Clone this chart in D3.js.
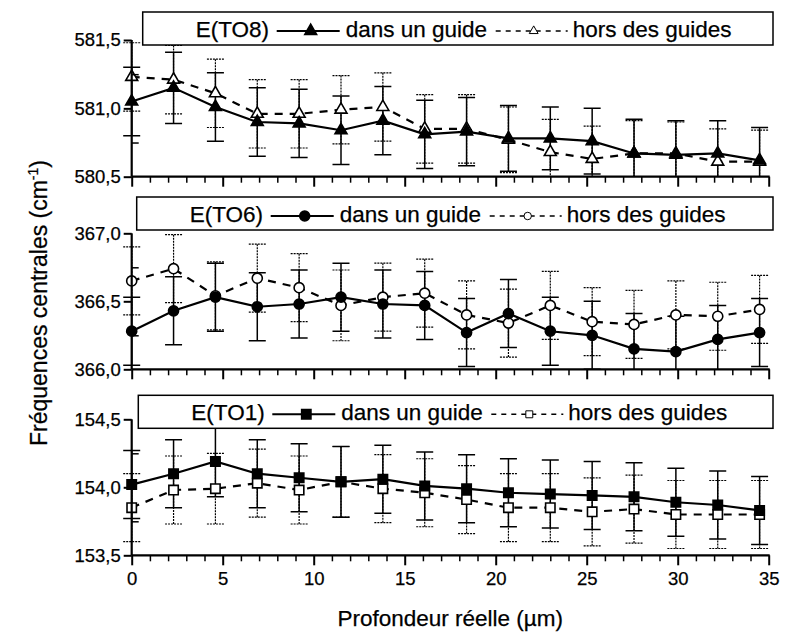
<!DOCTYPE html>
<html>
<head>
<meta charset="utf-8">
<title>Fréquences centrales</title>
<script src="https://cdn.jsdelivr.net/npm/d3@7"></script>
<style>
  body { margin: 0; background: #fff; }
  svg { font-family: "Liberation Sans", Arial, sans-serif; }
  text { stroke: #000; stroke-width: 0.25px; }
</style>
</head>
<body>
<svg id="chart" width="786" height="639"></svg>
<script>
// depth positions (µm)
const depth = [0, 2.3, 4.6, 6.9, 9.2, 11.5, 13.8, 16.1, 18.4, 20.7, 23.0, 25.3, 27.6, 29.9, 32.2, 34.5];
const xTicks = [0, 5, 10, 15, 20, 25, 30, 35];

// E(TO8)
const to8Guide    = [581.05, 581.15, 581.01, 580.90, 580.89, 580.84, 580.91, 580.81, 580.83, 580.78, 580.78, 580.76, 580.67, 580.66, 580.67, 580.62];
const to8GuideErr = [0.25, 0.26, 0.25, 0.25, 0.25, 0.25, 0.25, 0.25, 0.25, 0.24, 0.23, 0.24, 0.25, 0.25, 0.24, 0.24];
const to8Hors     = [581.23, 581.21, 581.11, 580.96, 580.96, 580.99, 581.01, 580.85, 580.85, 580.77, 580.68, 580.63, 580.67, 580.67, 580.61, 580.61];
const to8HorsErr  = [0.25, 0.25, 0.25, 0.25, 0.25, 0.25, 0.25, 0.25, 0.25, 0.24, 0.24, 0.24, 0.24, 0.23, 0.24, 0.23];

// E(TO6)
const to6Guide    = [366.28, 366.43, 366.53, 366.46, 366.48, 366.53, 366.48, 366.47, 366.27, 366.41, 366.28, 366.25, 366.15, 366.13, 366.22, 366.27];
const to6GuideErr = [0.25, 0.25, 0.25, 0.25, 0.25, 0.25, 0.25, 0.25, 0.25, 0.25, 0.25, 0.25, 0.26, 0.26, 0.25, 0.25];
const to6Hors     = [366.65, 366.74, 366.54, 366.67, 366.60, 366.47, 366.53, 366.56, 366.40, 366.34, 366.47, 366.35, 366.33, 366.40, 366.39, 366.44];
const to6HorsErr  = [0.25, 0.25, 0.25, 0.25, 0.25, 0.26, 0.25, 0.25, 0.25, 0.25, 0.25, 0.25, 0.25, 0.25, 0.25, 0.25];

// E(TO1)
const to1Guide    = [154.02, 154.10, 154.19, 154.10, 154.07, 154.04, 154.06, 154.01, 153.99, 153.96, 153.95, 153.94, 153.93, 153.89, 153.87, 153.83];
const to1GuideErr = [0.25, 0.25, 0.26, 0.25, 0.25, 0.26, 0.25, 0.25, 0.25, 0.25, 0.25, 0.25, 0.25, 0.25, 0.25, 0.25];
const to1Hors     = [153.85, 153.98, 153.99, 154.03, 153.98, 154.04, 153.99, 153.96, 153.91, 153.85, 153.85, 153.82, 153.84, 153.80, 153.80, 153.80];
const to1HorsErr  = [0.25, 0.25, 0.26, 0.25, 0.25, 0.26, 0.25, 0.25, 0.25, 0.25, 0.25, 0.25, 0.25, 0.25, 0.25, 0.25];

const yTicksTO8 = [580.5, 581.0, 581.5];
const yTicksTO6 = [366.0, 366.5, 367.0];
const yTicksTO1 = [153.5, 154.0, 154.5];

const svg = d3.select("#chart");
const x = d3.scaleLinear().domain([0, 35]).range([131.7, 768.7]);
const fmt = v => d3.format(".1f")(v).replace(".", ",");

const panels = [
  { name: "E(TO8)", sym: d3.symbolTriangle, size: 62, ticks: yTicksTO8, top: 40, bottom: 176.7,
    guide: to8Guide, guideErr: to8GuideErr, hors: to8Hors, horsErr: to8HorsErr, legL: 142.7, legB: 45, labels: false },
  { name: "E(TO6)", sym: d3.symbolCircle, size: 80, ticks: yTicksTO6, top: 233.3, bottom: 369.3,
    guide: to6Guide, guideErr: to6GuideErr, hors: to6Hors, horsErr: to6HorsErr, legL: 136.7, legB: 230, labels: false },
  { name: "E(TO1)", sym: d3.symbolSquare, size: 88, ticks: yTicksTO1, top: 419.3, bottom: 555.3,
    guide: to1Guide, guideErr: to1GuideErr, hors: to1Hors, horsErr: to1HorsErr, legL: 138.3, legB: 428.3, labels: true }
];

panels.forEach((p, i) => {
  const y = d3.scaleLinear().domain([p.ticks[0], p.ticks[2]]).range([p.bottom, p.top]);
  const g = svg.append("g");

  g.append("clipPath").attr("id", "clip" + i)
    .append("rect").attr("x", 100).attr("y", p.top - 40).attr("width", 700).attr("height", p.bottom - p.top + 40);
  const plot = g.append("g").attr("clip-path", `url(#clip${i})`);

  const series = [
    { vals: p.guide, err: p.guideErr, dash: null, fill: "#000", barDash: null, barW: 1.5 },
    { vals: p.hors, err: p.horsErr, dash: "8,7", fill: "#fff", barDash: "2,1", barW: 1.2 }
  ];

  // error bars
  series.forEach(s => {
    const eb = plot.append("g").attr("stroke", "#000").attr("stroke-width", s.barW)
      .attr("stroke-dasharray", s.barDash);
    depth.forEach((d, k) => {
      const cx = x(d), y1 = y(s.vals[k] + s.err[k]), y2 = y(s.vals[k] - s.err[k]);
      eb.append("line").attr("x1", cx).attr("x2", cx).attr("y1", y1).attr("y2", y2);
      eb.append("line").attr("x1", cx - 8.5).attr("x2", cx + 8.5).attr("y1", y1).attr("y2", y1);
      eb.append("line").attr("x1", cx - 8.5).attr("x2", cx + 8.5).attr("y1", y2).attr("y2", y2);
    });
  });

  // lines
  const line = d3.line().x((d, k) => x(depth[k])).y(d => y(d));
  series.slice().reverse().forEach(s => {
    plot.append("path").datum(s.vals).attr("d", line).attr("fill", "none")
      .attr("stroke", "#000").attr("stroke-width", 2.2).attr("stroke-dasharray", s.dash);
  });

  // markers
  series.slice().reverse().forEach(s => {
    plot.selectAll(null).data(s.vals).join("path")
      .attr("d", d3.symbol().type(p.sym).size(p.size))
      .attr("transform", (d, k) => `translate(${x(depth[k])},${y(d)})`)
      .attr("fill", s.fill).attr("stroke", "#000").attr("stroke-width", 1.6);
  });

  // left axis
  const yMinor = d3.range(p.ticks[0], p.ticks[2] + 1e-6, 0.25).filter(v => !p.ticks.some(t => Math.abs(t - v) < 1e-6));
  g.append("g").attr("transform", `translate(${x(0)},0)`)
    .call(d3.axisLeft(y).tickValues(yMinor).tickSize(-7).tickFormat(""))
    .call(a => a.select(".domain").remove())
    .selectAll("line").attr("stroke-width", 1.5);
  const ya = g.append("g").attr("transform", `translate(${x(0)},0)`)
    .call(d3.axisLeft(y).tickValues(p.ticks).tickSize(8).tickPadding(3).tickFormat(fmt));
  ya.select(".domain").attr("d", `M0,${p.top}V${p.bottom}`).attr("stroke-width", 2.2);
  ya.selectAll("line").attr("stroke-width", 2);
  ya.selectAll("text").attr("font-size", 18.5).attr("font-family", "Liberation Sans, Arial, sans-serif").attr("fill", "#000");

  // bottom axis
  const xMinor = d3.range(0, 36, 1).filter(v => v % 5 !== 0);
  g.append("g").attr("transform", `translate(0,${p.bottom})`)
    .call(d3.axisBottom(x).tickValues(xMinor).tickSize(6).tickFormat(""))
    .call(a => a.select(".domain").remove())
    .selectAll("line").attr("stroke-width", 1.5);
  const xa = g.append("g").attr("transform", `translate(0,${p.bottom})`)
    .call(d3.axisBottom(x).tickValues(xTicks).tickSize(10).tickPadding(7).tickFormat(p.labels ? d3.format("d") : ""));
  xa.select(".domain").attr("d", `M${x(0)},0H${x(35) + 1}`).attr("stroke-width", 2.2);
  xa.selectAll("line").attr("stroke-width", 2);
  xa.selectAll("text").attr("font-size", 18.5).attr("font-family", "Liberation Sans, Arial, sans-serif").attr("fill", "#000");

  // legend box
  const L = p.legL, B = p.legB, H = 33, R = 773;
  const lg = g.append("g");
  lg.append("rect").attr("x", L).attr("y", B - H).attr("width", R - L).attr("height", H)
    .attr("fill", "#fff").attr("stroke", "#000").attr("stroke-width", 1.5);
  const ty = B - 8, my = B - 14;
  lg.append("text").attr("x", L + 53).attr("y", ty).attr("font-size", 22.5).text(p.name);
  lg.append("line").attr("x1", L + 134).attr("x2", L + 197).attr("y1", my).attr("y2", my)
    .attr("stroke", "#000").attr("stroke-width", 2);
  lg.append("path").attr("d", d3.symbol().type(p.sym).size(p.size)).attr("transform", `translate(${L + 168},${my})`)
    .attr("fill", "#000").attr("stroke", "#000").attr("stroke-width", 1.5);
  lg.append("text").attr("x", L + 203).attr("y", ty).attr("font-size", 22.5).text("dans un guide");
  lg.append("line").attr("x1", L + 353).attr("x2", L + 425).attr("y1", my).attr("y2", my)
    .attr("stroke", "#000").attr("stroke-width", 1.5).attr("stroke-dasharray", "5,5");
  lg.append("path").attr("d", d3.symbol().type(p.sym).size(p.size * 0.55)).attr("transform", `translate(${L + 391},${my})`)
    .attr("fill", "#fff").attr("stroke", "#000").attr("stroke-width", 1);
  lg.append("text").attr("x", L + 430).attr("y", ty).attr("font-size", 22.5).text("hors des guides");
});

// axis titles
svg.append("text").attr("x", x(17.5)).attr("y", 626).attr("text-anchor", "middle")
  .attr("font-size", 22.5).text("Profondeur réelle (µm)");
const yt = svg.append("text").attr("transform", "translate(47,303) rotate(-90)")
  .attr("text-anchor", "middle").attr("font-size", 23);
yt.append("tspan").text("Fréquences centrales (cm");
yt.append("tspan").attr("font-size", 14).attr("dy", -9).text("-1");
yt.append("tspan").attr("dy", 9).text(")");
</script>
</body>
</html>
